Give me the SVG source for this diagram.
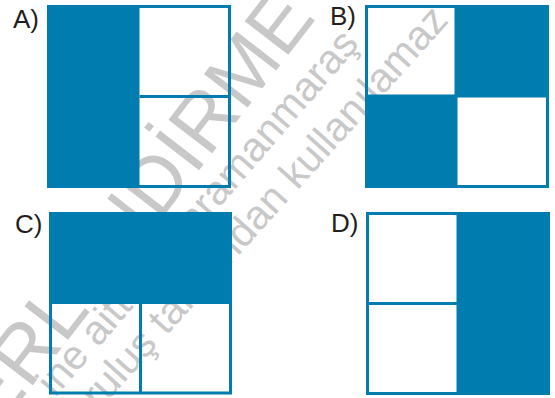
<svg xmlns="http://www.w3.org/2000/svg" width="555" height="398" viewBox="0 0 555 398">
<style>
.wm{fill:#c8c8c8;font-family:"Liberation Sans",Arial,sans-serif}
.lbl{fill:#231f20;font-family:"Liberation Sans",Arial,sans-serif;font-size:26px}
.fill{fill:#007cae}
.frame{fill:none;stroke:#007cae;stroke-width:3}
</style>
<g id="watermark">
<text class="wm" font-size="80" transform="translate(-110,570) rotate(-52.3)">DEĞERLENDİRME</text>
<text class="wm" font-size="41" transform="translate(55,398) rotate(-49.2)">ine aittir. Kahramanmaraş</text>
<text class="wm" font-size="41" transform="translate(70,443) rotate(-48)">kuruluş tarafından kullanılamaz</text>
</g>
<g id="optA">
<text class="lbl" x="13" y="28">A)</text>
<rect class="fill" x="47" y="5" width="92.5" height="183"/>
<rect class="frame" x="48.5" y="6.5" width="181" height="180"/>
<line class="frame" x1="139.5" y1="96.5" x2="230" y2="96.5"/>
</g>
<g id="optB">
<text class="lbl" x="330" y="24.5">B)</text>
<rect class="fill" x="456" y="5" width="93" height="91.5"/>
<rect class="fill" x="365" y="96" width="91.5" height="92"/>
<rect class="frame" x="366.5" y="6.5" width="181" height="180"/>
<line class="frame" x1="456" y1="5" x2="456" y2="188"/>
<line class="frame" x1="365" y1="96" x2="549" y2="96"/>
</g>
<g id="optC">
<text class="lbl" x="15" y="233">C)</text>
<rect class="fill" x="49" y="212" width="183" height="92"/>
<rect class="frame" x="50.5" y="213.5" width="180" height="179.5"/>
<line class="frame" x1="140.5" y1="304" x2="140.5" y2="394"/>
</g>
<g id="optD">
<text class="lbl" x="331" y="232">D)</text>
<rect class="fill" x="456.5" y="212" width="93.5" height="183"/>
<rect class="frame" x="367.5" y="213.5" width="181" height="180"/>
<line class="frame" x1="366" y1="303.5" x2="457" y2="303.5"/>
</g>
</svg>
